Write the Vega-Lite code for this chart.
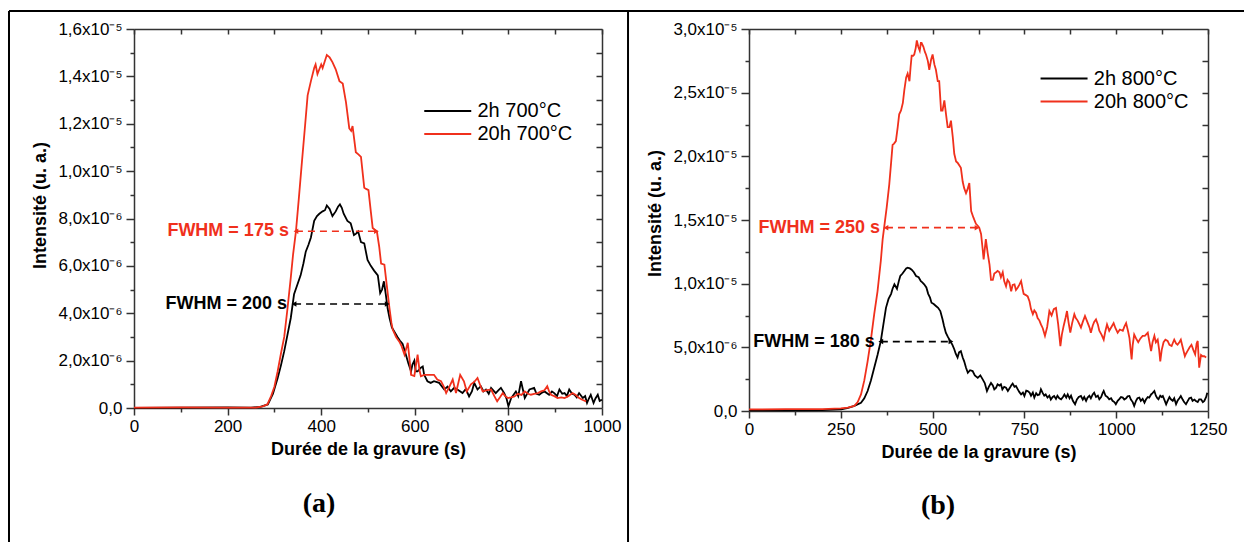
{
"$schema":"https://vega.github.io/schema/vega-lite/v6.json",
"padding":{"left":7,"top":9,"right":0,"bottom":0},
"autosize":{"type":"pad"},
"bounds":"flush",
"spacing":147,
"config":{"view":{"stroke":null},"font":"Liberation Sans",
"axis":{"labelFont":"Liberation Sans","labelFontSize":17,"labelColor":"#000","titleFont":"Liberation Sans","titleFontSize":18,"titleFontWeight":"bold","titleColor":"#000","domainColor":"#333","tickColor":"#333","domainWidth":1.5,"tickWidth":1.5,"grid":false,"labelFlush":false,"labelOverlap":false},
"legend":{"labelFont":"Liberation Sans","labelFontSize":20,"labelColor":"#000","padding":0,"rowPadding":0}},
"resolve":{"scale":{"color":"independent","x":"independent","y":"independent"},"legend":{"color":"independent"}},
"datasets":{
"curves":[
{"p":"a","s":"2h 700°C","t":0,"v":0},{"p":"a","s":"2h 700°C","t":100,"v":0.02e-6},{"p":"a","s":"2h 700°C","t":200,"v":0.03e-6},{"p":"a","s":"2h 700°C","t":250,"v":0.02e-6},{"p":"a","s":"2h 700°C","t":270,"v":0.05e-6},{"p":"a","s":"2h 700°C","t":286,"v":0.15e-6},{"p":"a","s":"2h 700°C","t":297,"v":0.6e-6},{"p":"a","s":"2h 700°C","t":307,"v":1.27e-6},{"p":"a","s":"2h 700°C","t":314,"v":1.8e-6},{"p":"a","s":"2h 700°C","t":321,"v":2.4e-6},{"p":"a","s":"2h 700°C","t":328,"v":3.1e-6},{"p":"a","s":"2h 700°C","t":335,"v":3.8e-6},{"p":"a","s":"2h 700°C","t":342,"v":4.8e-6},{"p":"a","s":"2h 700°C","t":349,"v":5.2e-6},{"p":"a","s":"2h 700°C","t":356,"v":5.6e-6},{"p":"a","s":"2h 700°C","t":362,"v":6.1e-6},{"p":"a","s":"2h 700°C","t":367,"v":6.6e-6},{"p":"a","s":"2h 700°C","t":373,"v":6.9e-6},{"p":"a","s":"2h 700°C","t":378,"v":7.2e-6},{"p":"a","s":"2h 700°C","t":385,"v":7.9e-6},{"p":"a","s":"2h 700°C","t":391,"v":8.1e-6},{"p":"a","s":"2h 700°C","t":396,"v":8.2e-6},{"p":"a","s":"2h 700°C","t":403,"v":8.3e-6},{"p":"a","s":"2h 700°C","t":408,"v":8.35e-6},{"p":"a","s":"2h 700°C","t":412,"v":8.55e-6},{"p":"a","s":"2h 700°C","t":418,"v":8.4e-6},{"p":"a","s":"2h 700°C","t":424,"v":8.1e-6},{"p":"a","s":"2h 700°C","t":431,"v":8.3e-6},{"p":"a","s":"2h 700°C","t":436,"v":8.5e-6},{"p":"a","s":"2h 700°C","t":440,"v":8.6e-6},{"p":"a","s":"2h 700°C","t":444,"v":8.45e-6},{"p":"a","s":"2h 700°C","t":448,"v":8.2e-6},{"p":"a","s":"2h 700°C","t":456,"v":7.9e-6},{"p":"a","s":"2h 700°C","t":463,"v":7.8e-6},{"p":"a","s":"2h 700°C","t":470,"v":7.3e-6},{"p":"a","s":"2h 700°C","t":474,"v":7.35e-6},{"p":"a","s":"2h 700°C","t":479,"v":7.45e-6},{"p":"a","s":"2h 700°C","t":485,"v":7.0e-6},{"p":"a","s":"2h 700°C","t":492,"v":6.95e-6},{"p":"a","s":"2h 700°C","t":499,"v":6.25e-6},{"p":"a","s":"2h 700°C","t":506,"v":6.0e-6},{"p":"a","s":"2h 700°C","t":513,"v":5.8e-6},{"p":"a","s":"2h 700°C","t":521,"v":5.6e-6},{"p":"a","s":"2h 700°C","t":526,"v":4.85e-6},{"p":"a","s":"2h 700°C","t":530,"v":5.0e-6},{"p":"a","s":"2h 700°C","t":534,"v":5.35e-6},{"p":"a","s":"2h 700°C","t":538,"v":4.8e-6},{"p":"a","s":"2h 700°C","t":542,"v":4.2e-6},{"p":"a","s":"2h 700°C","t":546,"v":3.8e-6},{"p":"a","s":"2h 700°C","t":551,"v":3.4e-6},{"p":"a","s":"2h 700°C","t":557,"v":3.2e-6},{"p":"a","s":"2h 700°C","t":563,"v":3.0e-6},{"p":"a","s":"2h 700°C","t":568,"v":2.85e-6},{"p":"a","s":"2h 700°C","t":574,"v":2.7e-6},{"p":"a","s":"2h 700°C","t":581,"v":2.25e-6},{"p":"a","s":"2h 700°C","t":586,"v":1.9e-6},{"p":"a","s":"2h 700°C","t":592,"v":1.55e-6},{"p":"a","s":"2h 700°C","t":595,"v":1.83e-6},{"p":"a","s":"2h 700°C","t":599,"v":2.0e-6},{"p":"a","s":"2h 700°C","t":602,"v":1.55e-6},{"p":"a","s":"2h 700°C","t":606,"v":1.55e-6},{"p":"a","s":"2h 700°C","t":613,"v":1.7e-6},{"p":"a","s":"2h 700°C","t":617,"v":1.75e-6},{"p":"a","s":"2h 700°C","t":620,"v":1.4e-6},{"p":"a","s":"2h 700°C","t":627,"v":1.13e-6},{"p":"a","s":"2h 700°C","t":634,"v":1.06e-6},{"p":"a","s":"2h 700°C","t":641,"v":1.13e-6},{"p":"a","s":"2h 700°C","t":652,"v":1.06e-6},{"p":"a","s":"2h 700°C","t":663,"v":0.78e-6},{"p":"a","s":"2h 700°C","t":670,"v":0.9e-6},{"p":"a","s":"2h 700°C","t":677,"v":0.7e-6},{"p":"a","s":"2h 700°C","t":684,"v":0.85e-6},{"p":"a","s":"2h 700°C","t":691,"v":0.78e-6},{"p":"a","s":"2h 700°C","t":702,"v":0.63e-6},{"p":"a","s":"2h 700°C","t":709,"v":0.8e-6},{"p":"a","s":"2h 700°C","t":716,"v":0.49e-6},{"p":"a","s":"2h 700°C","t":722,"v":0.7e-6},{"p":"a","s":"2h 700°C","t":727,"v":1.06e-6},{"p":"a","s":"2h 700°C","t":734,"v":0.78e-6},{"p":"a","s":"2h 700°C","t":741,"v":0.92e-6},{"p":"a","s":"2h 700°C","t":747,"v":0.7e-6},{"p":"a","s":"2h 700°C","t":752,"v":0.78e-6},{"p":"a","s":"2h 700°C","t":758,"v":0.6e-6},{"p":"a","s":"2h 700°C","t":763,"v":0.85e-6},{"p":"a","s":"2h 700°C","t":773,"v":0.63e-6},{"p":"a","s":"2h 700°C","t":779,"v":0.75e-6},{"p":"a","s":"2h 700°C","t":784,"v":0.85e-6},{"p":"a","s":"2h 700°C","t":791,"v":0.63e-6},{"p":"a","s":"2h 700°C","t":796,"v":0.4e-6},{"p":"a","s":"2h 700°C","t":800,"v":0.07e-6},{"p":"a","s":"2h 700°C","t":806,"v":0.42e-6},{"p":"a","s":"2h 700°C","t":816,"v":0.7e-6},{"p":"a","s":"2h 700°C","t":821,"v":0.5e-6},{"p":"a","s":"2h 700°C","t":827,"v":1.13e-6},{"p":"a","s":"2h 700°C","t":835,"v":0.42e-6},{"p":"a","s":"2h 700°C","t":840,"v":0.6e-6},{"p":"a","s":"2h 700°C","t":845,"v":0.78e-6},{"p":"a","s":"2h 700°C","t":855,"v":0.85e-6},{"p":"a","s":"2h 700°C","t":860,"v":0.6e-6},{"p":"a","s":"2h 700°C","t":866,"v":0.56e-6},{"p":"a","s":"2h 700°C","t":872,"v":0.65e-6},{"p":"a","s":"2h 700°C","t":877,"v":0.7e-6},{"p":"a","s":"2h 700°C","t":887,"v":0.56e-6},{"p":"a","s":"2h 700°C","t":893,"v":0.7e-6},{"p":"a","s":"2h 700°C","t":898,"v":0.63e-6},{"p":"a","s":"2h 700°C","t":904,"v":0.5e-6},{"p":"a","s":"2h 700°C","t":909,"v":0.78e-6},{"p":"a","s":"2h 700°C","t":915,"v":0.6e-6},{"p":"a","s":"2h 700°C","t":920,"v":0.63e-6},{"p":"a","s":"2h 700°C","t":925,"v":0.5e-6},{"p":"a","s":"2h 700°C","t":930,"v":0.78e-6},{"p":"a","s":"2h 700°C","t":936,"v":0.6e-6},{"p":"a","s":"2h 700°C","t":941,"v":0.56e-6},{"p":"a","s":"2h 700°C","t":946,"v":0.45e-6},{"p":"a","s":"2h 700°C","t":951,"v":0.63e-6},{"p":"a","s":"2h 700°C","t":959,"v":0.42e-6},{"p":"a","s":"2h 700°C","t":964,"v":0.5e-6},{"p":"a","s":"2h 700°C","t":968,"v":0.21e-6},{"p":"a","s":"2h 700°C","t":972,"v":0.4e-6},{"p":"a","s":"2h 700°C","t":976,"v":0.56e-6},{"p":"a","s":"2h 700°C","t":982,"v":0.21e-6},{"p":"a","s":"2h 700°C","t":986,"v":0.4e-6},{"p":"a","s":"2h 700°C","t":991,"v":0.56e-6},{"p":"a","s":"2h 700°C","t":995,"v":0.3e-6},{"p":"a","s":"2h 700°C","t":1000,"v":0.35e-6},
{"p":"a","s":"20h 700°C","t":0,"v":0.02e-6},{"p":"a","s":"20h 700°C","t":100,"v":0.03e-6},{"p":"a","s":"20h 700°C","t":200,"v":0.02e-6},{"p":"a","s":"20h 700°C","t":260,"v":0.02e-6},{"p":"a","s":"20h 700°C","t":275,"v":0.07e-6},{"p":"a","s":"20h 700°C","t":285,"v":0.15e-6},{"p":"a","s":"20h 700°C","t":293,"v":0.5e-6},{"p":"a","s":"20h 700°C","t":300,"v":0.9e-6},{"p":"a","s":"20h 700°C","t":307,"v":1.55e-6},{"p":"a","s":"20h 700°C","t":314,"v":2.3e-6},{"p":"a","s":"20h 700°C","t":321,"v":3.0e-6},{"p":"a","s":"20h 700°C","t":328,"v":4.2e-6},{"p":"a","s":"20h 700°C","t":335,"v":5.5e-6},{"p":"a","s":"20h 700°C","t":340,"v":6.5e-6},{"p":"a","s":"20h 700°C","t":346,"v":7.45e-6},{"p":"a","s":"20h 700°C","t":352,"v":8.8e-6},{"p":"a","s":"20h 700°C","t":358,"v":10.2e-6},{"p":"a","s":"20h 700°C","t":365,"v":11.8e-6},{"p":"a","s":"20h 700°C","t":371,"v":13.2e-6},{"p":"a","s":"20h 700°C","t":378,"v":13.8e-6},{"p":"a","s":"20h 700°C","t":385,"v":14.35e-6},{"p":"a","s":"20h 700°C","t":388,"v":14.5e-6},{"p":"a","s":"20h 700°C","t":392,"v":14.1e-6},{"p":"a","s":"20h 700°C","t":396,"v":14.3e-6},{"p":"a","s":"20h 700°C","t":400,"v":14.5e-6},{"p":"a","s":"20h 700°C","t":403,"v":14.35e-6},{"p":"a","s":"20h 700°C","t":407,"v":14.6e-6},{"p":"a","s":"20h 700°C","t":412,"v":14.9e-6},{"p":"a","s":"20h 700°C","t":418,"v":14.8e-6},{"p":"a","s":"20h 700°C","t":424,"v":14.6e-6},{"p":"a","s":"20h 700°C","t":431,"v":14.3e-6},{"p":"a","s":"20h 700°C","t":439,"v":13.8e-6},{"p":"a","s":"20h 700°C","t":446,"v":13.7e-6},{"p":"a","s":"20h 700°C","t":453,"v":12.9e-6},{"p":"a","s":"20h 700°C","t":460,"v":11.8e-6},{"p":"a","s":"20h 700°C","t":464,"v":11.7e-6},{"p":"a","s":"20h 700°C","t":467,"v":11.9e-6},{"p":"a","s":"20h 700°C","t":474,"v":10.8e-6},{"p":"a","s":"20h 700°C","t":480,"v":10.7e-6},{"p":"a","s":"20h 700°C","t":485,"v":10.6e-6},{"p":"a","s":"20h 700°C","t":492,"v":9.3e-6},{"p":"a","s":"20h 700°C","t":496,"v":9.25e-6},{"p":"a","s":"20h 700°C","t":501,"v":9.2e-6},{"p":"a","s":"20h 700°C","t":506,"v":8.3e-6},{"p":"a","s":"20h 700°C","t":510,"v":7.6e-6},{"p":"a","s":"20h 700°C","t":519,"v":7.45e-6},{"p":"a","s":"20h 700°C","t":524,"v":6.8e-6},{"p":"a","s":"20h 700°C","t":528,"v":6.1e-6},{"p":"a","s":"20h 700°C","t":535,"v":6.05e-6},{"p":"a","s":"20h 700°C","t":540,"v":5.2e-6},{"p":"a","s":"20h 700°C","t":546,"v":4.2e-6},{"p":"a","s":"20h 700°C","t":550,"v":3.6e-6},{"p":"a","s":"20h 700°C","t":553,"v":3.3e-6},{"p":"a","s":"20h 700°C","t":560,"v":3.0e-6},{"p":"a","s":"20h 700°C","t":567,"v":2.8e-6},{"p":"a","s":"20h 700°C","t":572,"v":2.6e-6},{"p":"a","s":"20h 700°C","t":578,"v":2.25e-6},{"p":"a","s":"20h 700°C","t":585,"v":2.75e-6},{"p":"a","s":"20h 700°C","t":589,"v":2.0e-6},{"p":"a","s":"20h 700°C","t":592,"v":1.4e-6},{"p":"a","s":"20h 700°C","t":599,"v":1.35e-6},{"p":"a","s":"20h 700°C","t":606,"v":2.25e-6},{"p":"a","s":"20h 700°C","t":610,"v":1.6e-6},{"p":"a","s":"20h 700°C","t":613,"v":1.34e-6},{"p":"a","s":"20h 700°C","t":620,"v":1.4e-6},{"p":"a","s":"20h 700°C","t":627,"v":1.4e-6},{"p":"a","s":"20h 700°C","t":634,"v":1.4e-6},{"p":"a","s":"20h 700°C","t":641,"v":1.4e-6},{"p":"a","s":"20h 700°C","t":648,"v":1.2e-6},{"p":"a","s":"20h 700°C","t":656,"v":1.13e-6},{"p":"a","s":"20h 700°C","t":662,"v":0.9e-6},{"p":"a","s":"20h 700°C","t":667,"v":0.63e-6},{"p":"a","s":"20h 700°C","t":674,"v":0.9e-6},{"p":"a","s":"20h 700°C","t":681,"v":1.2e-6},{"p":"a","s":"20h 700°C","t":688,"v":0.63e-6},{"p":"a","s":"20h 700°C","t":697,"v":1.4e-6},{"p":"a","s":"20h 700°C","t":705,"v":1.13e-6},{"p":"a","s":"20h 700°C","t":711,"v":0.7e-6},{"p":"a","s":"20h 700°C","t":720,"v":1.0e-6},{"p":"a","s":"20h 700°C","t":727,"v":1.1e-6},{"p":"a","s":"20h 700°C","t":734,"v":1.27e-6},{"p":"a","s":"20h 700°C","t":740,"v":0.95e-6},{"p":"a","s":"20h 700°C","t":745,"v":0.7e-6},{"p":"a","s":"20h 700°C","t":754,"v":0.75e-6},{"p":"a","s":"20h 700°C","t":763,"v":0.78e-6},{"p":"a","s":"20h 700°C","t":770,"v":0.5e-6},{"p":"a","s":"20h 700°C","t":776,"v":0.28e-6},{"p":"a","s":"20h 700°C","t":782,"v":0.45e-6},{"p":"a","s":"20h 700°C","t":788,"v":0.63e-6},{"p":"a","s":"20h 700°C","t":793,"v":0.5e-6},{"p":"a","s":"20h 700°C","t":799,"v":0.42e-6},{"p":"a","s":"20h 700°C","t":806,"v":0.45e-6},{"p":"a","s":"20h 700°C","t":813,"v":0.49e-6},{"p":"a","s":"20h 700°C","t":820,"v":0.6e-6},{"p":"a","s":"20h 700°C","t":828,"v":0.55e-6},{"p":"a","s":"20h 700°C","t":835,"v":0.7e-6},{"p":"a","s":"20h 700°C","t":842,"v":0.6e-6},{"p":"a","s":"20h 700°C","t":848,"v":0.56e-6},{"p":"a","s":"20h 700°C","t":855,"v":0.6e-6},{"p":"a","s":"20h 700°C","t":863,"v":0.63e-6},{"p":"a","s":"20h 700°C","t":870,"v":0.7e-6},{"p":"a","s":"20h 700°C","t":877,"v":0.75e-6},{"p":"a","s":"20h 700°C","t":883,"v":0.92e-6},{"p":"a","s":"20h 700°C","t":887,"v":0.7e-6},{"p":"a","s":"20h 700°C","t":891,"v":0.56e-6},{"p":"a","s":"20h 700°C","t":898,"v":0.5e-6},{"p":"a","s":"20h 700°C","t":905,"v":0.42e-6},{"p":"a","s":"20h 700°C","t":913,"v":0.45e-6},{"p":"a","s":"20h 700°C","t":920,"v":0.42e-6},{"p":"a","s":"20h 700°C","t":928,"v":0.5e-6},{"p":"a","s":"20h 700°C","t":937,"v":0.63e-6},{"p":"a","s":"20h 700°C","t":944,"v":0.55e-6},{"p":"a","s":"20h 700°C","t":951,"v":0.42e-6},{"p":"a","s":"20h 700°C","t":958,"v":0.35e-6},{"p":"a","s":"20h 700°C","t":966,"v":0.28e-6},
{"p":"b","s":"2h 800°C","t":0,"v":0.05e-6},{"p":"b","s":"2h 800°C","t":100,"v":0.05e-6},{"p":"b","s":"2h 800°C","t":200,"v":0.08e-6},{"p":"b","s":"2h 800°C","t":251,"v":0.13e-6},{"p":"b","s":"2h 800°C","t":270,"v":0.25e-6},{"p":"b","s":"2h 800°C","t":287,"v":0.4e-6},{"p":"b","s":"2h 800°C","t":305,"v":0.65e-6},{"p":"b","s":"2h 800°C","t":314,"v":1.0e-6},{"p":"b","s":"2h 800°C","t":323,"v":1.57e-6},{"p":"b","s":"2h 800°C","t":332,"v":2.4e-6},{"p":"b","s":"2h 800°C","t":341,"v":3.4e-6},{"p":"b","s":"2h 800°C","t":350,"v":4.4e-6},{"p":"b","s":"2h 800°C","t":359,"v":5.5e-6},{"p":"b","s":"2h 800°C","t":366,"v":6.8e-6},{"p":"b","s":"2h 800°C","t":373,"v":8.1e-6},{"p":"b","s":"2h 800°C","t":380,"v":8.8e-6},{"p":"b","s":"2h 800°C","t":387,"v":9.2e-6},{"p":"b","s":"2h 800°C","t":391,"v":9.6e-6},{"p":"b","s":"2h 800°C","t":396,"v":9.95e-6},{"p":"b","s":"2h 800°C","t":403,"v":9.6e-6},{"p":"b","s":"2h 800°C","t":408,"v":10.2e-6},{"p":"b","s":"2h 800°C","t":412,"v":10.6e-6},{"p":"b","s":"2h 800°C","t":418,"v":10.8e-6},{"p":"b","s":"2h 800°C","t":423,"v":11.0e-6},{"p":"b","s":"2h 800°C","t":428,"v":11.2e-6},{"p":"b","s":"2h 800°C","t":432,"v":11.26e-6},{"p":"b","s":"2h 800°C","t":438,"v":11.2e-6},{"p":"b","s":"2h 800°C","t":443,"v":11.1e-6},{"p":"b","s":"2h 800°C","t":449,"v":10.9e-6},{"p":"b","s":"2h 800°C","t":455,"v":10.6e-6},{"p":"b","s":"2h 800°C","t":462,"v":10.5e-6},{"p":"b","s":"2h 800°C","t":468,"v":10.2e-6},{"p":"b","s":"2h 800°C","t":472,"v":10.1e-6},{"p":"b","s":"2h 800°C","t":477,"v":9.95e-6},{"p":"b","s":"2h 800°C","t":483,"v":9.7e-6},{"p":"b","s":"2h 800°C","t":488,"v":9.2e-6},{"p":"b","s":"2h 800°C","t":493,"v":8.9e-6},{"p":"b","s":"2h 800°C","t":497,"v":8.5e-6},{"p":"b","s":"2h 800°C","t":503,"v":8.4e-6},{"p":"b","s":"2h 800°C","t":509,"v":8.25e-6},{"p":"b","s":"2h 800°C","t":515,"v":8.1e-6},{"p":"b","s":"2h 800°C","t":521,"v":7.85e-6},{"p":"b","s":"2h 800°C","t":527,"v":7.2e-6},{"p":"b","s":"2h 800°C","t":531,"v":6.7e-6},{"p":"b","s":"2h 800°C","t":536,"v":6.15e-6},{"p":"b","s":"2h 800°C","t":542,"v":5.8e-6},{"p":"b","s":"2h 800°C","t":548,"v":5.5e-6},{"p":"b","s":"2h 800°C","t":554,"v":5.2e-6},{"p":"b","s":"2h 800°C","t":559,"v":4.85e-6},{"p":"b","s":"2h 800°C","t":563,"v":4.5e-6},{"p":"b","s":"2h 800°C","t":568,"v":4.2e-6},{"p":"b","s":"2h 800°C","t":572,"v":4.6e-6},{"p":"b","s":"2h 800°C","t":577,"v":4.7e-6},{"p":"b","s":"2h 800°C","t":582,"v":4.2e-6},{"p":"b","s":"2h 800°C","t":586,"v":3.9e-6},{"p":"b","s":"2h 800°C","t":591,"v":3.4e-6},{"p":"b","s":"2h 800°C","t":596,"v":3.0e-6},{"p":"b","s":"2h 800°C","t":602,"v":3.2e-6},{"p":"b","s":"2h 800°C","t":609,"v":3.14e-6},{"p":"b","s":"2h 800°C","t":615,"v":2.8e-6},{"p":"b","s":"2h 800°C","t":623,"v":2.6e-6},{"p":"b","s":"2h 800°C","t":630,"v":2.8e-6},{"p":"b","s":"2h 800°C","t":636,"v":2.5e-6},{"p":"b","s":"2h 800°C","t":642,"v":2.2e-6},{"p":"b","s":"2h 800°C","t":648,"v":1.57e-6},{"p":"b","s":"2h 800°C","t":653,"v":1.9e-6},{"p":"b","s":"2h 800°C","t":659,"v":2.2e-6},{"p":"b","s":"2h 800°C","t":664,"v":2.0e-6},{"p":"b","s":"2h 800°C","t":668,"v":1.7e-6},{"p":"b","s":"2h 800°C","t":673,"v":1.83e-6},{"p":"b","s":"2h 800°C","t":677,"v":2.1e-6},{"p":"b","s":"2h 800°C","t":682,"v":2.0e-6},{"p":"b","s":"2h 800°C","t":686,"v":2.1e-6},{"p":"b","s":"2h 800°C","t":690,"v":1.7e-6},{"p":"b","s":"2h 800°C","t":695,"v":1.9e-6},{"p":"b","s":"2h 800°C","t":700,"v":1.83e-6},{"p":"b","s":"2h 800°C","t":705,"v":1.57e-6},{"p":"b","s":"2h 800°C","t":710,"v":1.8e-6},{"p":"b","s":"2h 800°C","t":714,"v":2.0e-6},{"p":"b","s":"2h 800°C","t":718,"v":2.15e-6},{"p":"b","s":"2h 800°C","t":723,"v":1.9e-6},{"p":"b","s":"2h 800°C","t":727,"v":1.96e-6},{"p":"b","s":"2h 800°C","t":732,"v":1.7e-6},{"p":"b","s":"2h 800°C","t":736,"v":1.5e-6},{"p":"b","s":"2h 800°C","t":741,"v":1.3e-6},{"p":"b","s":"2h 800°C","t":746,"v":1.45e-6},{"p":"b","s":"2h 800°C","t":750,"v":1.18e-6},{"p":"b","s":"2h 800°C","t":755,"v":1.6e-6},{"p":"b","s":"2h 800°C","t":759,"v":1.57e-6},{"p":"b","s":"2h 800°C","t":764,"v":1.44e-6},{"p":"b","s":"2h 800°C","t":768,"v":1.2e-6},{"p":"b","s":"2h 800°C","t":773,"v":1.45e-6},{"p":"b","s":"2h 800°C","t":777,"v":1.05e-6},{"p":"b","s":"2h 800°C","t":782,"v":1.4e-6},{"p":"b","s":"2h 800°C","t":786,"v":1.25e-6},{"p":"b","s":"2h 800°C","t":791,"v":1.3e-6},{"p":"b","s":"2h 800°C","t":795,"v":1.7e-6},{"p":"b","s":"2h 800°C","t":800,"v":1.4e-6},{"p":"b","s":"2h 800°C","t":804,"v":1.2e-6},{"p":"b","s":"2h 800°C","t":808,"v":1.3e-6},{"p":"b","s":"2h 800°C","t":813,"v":1.05e-6},{"p":"b","s":"2h 800°C","t":818,"v":1.2e-6},{"p":"b","s":"2h 800°C","t":822,"v":0.9e-6},{"p":"b","s":"2h 800°C","t":827,"v":1.1e-6},{"p":"b","s":"2h 800°C","t":831,"v":1.18e-6},{"p":"b","s":"2h 800°C","t":836,"v":0.95e-6},{"p":"b","s":"2h 800°C","t":840,"v":1.2e-6},{"p":"b","s":"2h 800°C","t":845,"v":1.0e-6},{"p":"b","s":"2h 800°C","t":850,"v":0.92e-6},{"p":"b","s":"2h 800°C","t":855,"v":1.1e-6},{"p":"b","s":"2h 800°C","t":859,"v":1.3e-6},{"p":"b","s":"2h 800°C","t":864,"v":1.05e-6},{"p":"b","s":"2h 800°C","t":868,"v":1.3e-6},{"p":"b","s":"2h 800°C","t":873,"v":1.0e-6},{"p":"b","s":"2h 800°C","t":877,"v":1.2e-6},{"p":"b","s":"2h 800°C","t":882,"v":0.8e-6},{"p":"b","s":"2h 800°C","t":888,"v":0.53e-6},{"p":"b","s":"2h 800°C","t":893,"v":0.9e-6},{"p":"b","s":"2h 800°C","t":898,"v":1.1e-6},{"p":"b","s":"2h 800°C","t":904,"v":1.18e-6},{"p":"b","s":"2h 800°C","t":909,"v":0.9e-6},{"p":"b","s":"2h 800°C","t":913,"v":1.1e-6},{"p":"b","s":"2h 800°C","t":918,"v":0.8e-6},{"p":"b","s":"2h 800°C","t":922,"v":1.05e-6},{"p":"b","s":"2h 800°C","t":927,"v":1.2e-6},{"p":"b","s":"2h 800°C","t":931,"v":1.0e-6},{"p":"b","s":"2h 800°C","t":936,"v":1.3e-6},{"p":"b","s":"2h 800°C","t":940,"v":1.44e-6},{"p":"b","s":"2h 800°C","t":945,"v":1.1e-6},{"p":"b","s":"2h 800°C","t":950,"v":1.2e-6},{"p":"b","s":"2h 800°C","t":954,"v":0.92e-6},{"p":"b","s":"2h 800°C","t":959,"v":1.1e-6},{"p":"b","s":"2h 800°C","t":963,"v":1.4e-6},{"p":"b","s":"2h 800°C","t":966,"v":1.57e-6},{"p":"b","s":"2h 800°C","t":971,"v":1.2e-6},{"p":"b","s":"2h 800°C","t":976,"v":1.1e-6},{"p":"b","s":"2h 800°C","t":981,"v":0.92e-6},{"p":"b","s":"2h 800°C","t":986,"v":1.0e-6},{"p":"b","s":"2h 800°C","t":990,"v":0.8e-6},{"p":"b","s":"2h 800°C","t":995,"v":0.7e-6},{"p":"b","s":"2h 800°C","t":999,"v":0.53e-6},{"p":"b","s":"2h 800°C","t":1004,"v":0.8e-6},{"p":"b","s":"2h 800°C","t":1009,"v":0.95e-6},{"p":"b","s":"2h 800°C","t":1013,"v":1.1e-6},{"p":"b","s":"2h 800°C","t":1018,"v":1.05e-6},{"p":"b","s":"2h 800°C","t":1022,"v":0.9e-6},{"p":"b","s":"2h 800°C","t":1027,"v":1.0e-6},{"p":"b","s":"2h 800°C","t":1031,"v":1.15e-6},{"p":"b","s":"2h 800°C","t":1036,"v":1.18e-6},{"p":"b","s":"2h 800°C","t":1040,"v":0.9e-6},{"p":"b","s":"2h 800°C","t":1045,"v":0.7e-6},{"p":"b","s":"2h 800°C","t":1049,"v":0.4e-6},{"p":"b","s":"2h 800°C","t":1054,"v":0.8e-6},{"p":"b","s":"2h 800°C","t":1058,"v":1.0e-6},{"p":"b","s":"2h 800°C","t":1063,"v":1.05e-6},{"p":"b","s":"2h 800°C","t":1067,"v":0.8e-6},{"p":"b","s":"2h 800°C","t":1072,"v":0.95e-6},{"p":"b","s":"2h 800°C","t":1077,"v":0.65e-6},{"p":"b","s":"2h 800°C","t":1081,"v":0.9e-6},{"p":"b","s":"2h 800°C","t":1086,"v":1.1e-6},{"p":"b","s":"2h 800°C","t":1090,"v":1.05e-6},{"p":"b","s":"2h 800°C","t":1095,"v":1.3e-6},{"p":"b","s":"2h 800°C","t":1099,"v":1.4e-6},{"p":"b","s":"2h 800°C","t":1104,"v":1.57e-6},{"p":"b","s":"2h 800°C","t":1108,"v":1.2e-6},{"p":"b","s":"2h 800°C","t":1112,"v":1.0e-6},{"p":"b","s":"2h 800°C","t":1115,"v":0.92e-6},{"p":"b","s":"2h 800°C","t":1120,"v":1.2e-6},{"p":"b","s":"2h 800°C","t":1124,"v":1.1e-6},{"p":"b","s":"2h 800°C","t":1127,"v":1.18e-6},{"p":"b","s":"2h 800°C","t":1131,"v":0.9e-6},{"p":"b","s":"2h 800°C","t":1136,"v":0.53e-6},{"p":"b","s":"2h 800°C","t":1140,"v":0.8e-6},{"p":"b","s":"2h 800°C","t":1145,"v":1.1e-6},{"p":"b","s":"2h 800°C","t":1149,"v":0.92e-6},{"p":"b","s":"2h 800°C","t":1154,"v":0.8e-6},{"p":"b","s":"2h 800°C","t":1158,"v":1.0e-6},{"p":"b","s":"2h 800°C","t":1163,"v":0.53e-6},{"p":"b","s":"2h 800°C","t":1167,"v":0.8e-6},{"p":"b","s":"2h 800°C","t":1172,"v":1.0e-6},{"p":"b","s":"2h 800°C","t":1176,"v":1.18e-6},{"p":"b","s":"2h 800°C","t":1181,"v":0.9e-6},{"p":"b","s":"2h 800°C","t":1185,"v":0.7e-6},{"p":"b","s":"2h 800°C","t":1190,"v":0.53e-6},{"p":"b","s":"2h 800°C","t":1195,"v":0.8e-6},{"p":"b","s":"2h 800°C","t":1199,"v":1.0e-6},{"p":"b","s":"2h 800°C","t":1204,"v":1.05e-6},{"p":"b","s":"2h 800°C","t":1208,"v":0.8e-6},{"p":"b","s":"2h 800°C","t":1213,"v":0.9e-6},{"p":"b","s":"2h 800°C","t":1217,"v":0.79e-6},{"p":"b","s":"2h 800°C","t":1222,"v":0.7e-6},{"p":"b","s":"2h 800°C","t":1226,"v":0.92e-6},{"p":"b","s":"2h 800°C","t":1231,"v":0.92e-6},{"p":"b","s":"2h 800°C","t":1236,"v":0.7e-6},{"p":"b","s":"2h 800°C","t":1240,"v":0.79e-6},{"p":"b","s":"2h 800°C","t":1245,"v":1.1e-6},{"p":"b","s":"2h 800°C","t":1248,"v":1.44e-6},
{"p":"b","s":"20h 800°C","t":0,"v":0.12e-6},{"p":"b","s":"20h 800°C","t":100,"v":0.15e-6},{"p":"b","s":"20h 800°C","t":200,"v":0.15e-6},{"p":"b","s":"20h 800°C","t":250,"v":0.2e-6},{"p":"b","s":"20h 800°C","t":269,"v":0.26e-6},{"p":"b","s":"20h 800°C","t":287,"v":0.4e-6},{"p":"b","s":"20h 800°C","t":296,"v":0.7e-6},{"p":"b","s":"20h 800°C","t":305,"v":1.3e-6},{"p":"b","s":"20h 800°C","t":314,"v":2.4e-6},{"p":"b","s":"20h 800°C","t":323,"v":3.9e-6},{"p":"b","s":"20h 800°C","t":332,"v":5.6e-6},{"p":"b","s":"20h 800°C","t":341,"v":7.6e-6},{"p":"b","s":"20h 800°C","t":350,"v":9.4e-6},{"p":"b","s":"20h 800°C","t":359,"v":11.8e-6},{"p":"b","s":"20h 800°C","t":364,"v":13.5e-6},{"p":"b","s":"20h 800°C","t":368,"v":14.4e-6},{"p":"b","s":"20h 800°C","t":375,"v":16.0e-6},{"p":"b","s":"20h 800°C","t":382,"v":17.8e-6},{"p":"b","s":"20h 800°C","t":387,"v":19.5e-6},{"p":"b","s":"20h 800°C","t":391,"v":20.9e-6},{"p":"b","s":"20h 800°C","t":395,"v":21.0e-6},{"p":"b","s":"20h 800°C","t":400,"v":21.2e-6},{"p":"b","s":"20h 800°C","t":405,"v":22.3e-6},{"p":"b","s":"20h 800°C","t":409,"v":23.3e-6},{"p":"b","s":"20h 800°C","t":414,"v":23.6e-6},{"p":"b","s":"20h 800°C","t":419,"v":24.2e-6},{"p":"b","s":"20h 800°C","t":423,"v":25.2e-6},{"p":"b","s":"20h 800°C","t":428,"v":26.2e-6},{"p":"b","s":"20h 800°C","t":432,"v":26.5e-6},{"p":"b","s":"20h 800°C","t":437,"v":25.9e-6},{"p":"b","s":"20h 800°C","t":440,"v":27.0e-6},{"p":"b","s":"20h 800°C","t":443,"v":27.9e-6},{"p":"b","s":"20h 800°C","t":447,"v":27.9e-6},{"p":"b","s":"20h 800°C","t":450,"v":28.0e-6},{"p":"b","s":"20h 800°C","t":454,"v":28.5e-6},{"p":"b","s":"20h 800°C","t":457,"v":29.1e-6},{"p":"b","s":"20h 800°C","t":461,"v":28.6e-6},{"p":"b","s":"20h 800°C","t":465,"v":28.3e-6},{"p":"b","s":"20h 800°C","t":468,"v":28.9e-6},{"p":"b","s":"20h 800°C","t":470,"v":28.9e-6},{"p":"b","s":"20h 800°C","t":475,"v":28.6e-6},{"p":"b","s":"20h 800°C","t":479,"v":28.2e-6},{"p":"b","s":"20h 800°C","t":482,"v":28.0e-6},{"p":"b","s":"20h 800°C","t":487,"v":27.5e-6},{"p":"b","s":"20h 800°C","t":491,"v":26.8e-6},{"p":"b","s":"20h 800°C","t":496,"v":27.6e-6},{"p":"b","s":"20h 800°C","t":500,"v":28.0e-6},{"p":"b","s":"20h 800°C","t":505,"v":27.2e-6},{"p":"b","s":"20h 800°C","t":509,"v":26.8e-6},{"p":"b","s":"20h 800°C","t":514,"v":25.9e-6},{"p":"b","s":"20h 800°C","t":518,"v":25.9e-6},{"p":"b","s":"20h 800°C","t":523,"v":23.6e-6},{"p":"b","s":"20h 800°C","t":527,"v":23.6e-6},{"p":"b","s":"20h 800°C","t":532,"v":24.4e-6},{"p":"b","s":"20h 800°C","t":537,"v":23.2e-6},{"p":"b","s":"20h 800°C","t":541,"v":22.3e-6},{"p":"b","s":"20h 800°C","t":546,"v":22.3e-6},{"p":"b","s":"20h 800°C","t":550,"v":22.8e-6},{"p":"b","s":"20h 800°C","t":555,"v":21.5e-6},{"p":"b","s":"20h 800°C","t":559,"v":20.2e-6},{"p":"b","s":"20h 800°C","t":564,"v":19.6e-6},{"p":"b","s":"20h 800°C","t":568,"v":19.5e-6},{"p":"b","s":"20h 800°C","t":577,"v":19.1e-6},{"p":"b","s":"20h 800°C","t":582,"v":18.0e-6},{"p":"b","s":"20h 800°C","t":586,"v":17.5e-6},{"p":"b","s":"20h 800°C","t":591,"v":17.1e-6},{"p":"b","s":"20h 800°C","t":595,"v":17.4e-6},{"p":"b","s":"20h 800°C","t":600,"v":17.9e-6},{"p":"b","s":"20h 800°C","t":605,"v":15.7e-6},{"p":"b","s":"20h 800°C","t":611,"v":15.2e-6},{"p":"b","s":"20h 800°C","t":618,"v":14.7e-6},{"p":"b","s":"20h 800°C","t":623,"v":14.55e-6},{"p":"b","s":"20h 800°C","t":627,"v":14.4e-6},{"p":"b","s":"20h 800°C","t":632,"v":13.9e-6},{"p":"b","s":"20h 800°C","t":636,"v":12.8e-6},{"p":"b","s":"20h 800°C","t":639,"v":11.9e-6},{"p":"b","s":"20h 800°C","t":645,"v":13.5e-6},{"p":"b","s":"20h 800°C","t":650,"v":12.4e-6},{"p":"b","s":"20h 800°C","t":655,"v":11.5e-6},{"p":"b","s":"20h 800°C","t":659,"v":10.3e-6},{"p":"b","s":"20h 800°C","t":664,"v":10.3e-6},{"p":"b","s":"20h 800°C","t":668,"v":10.8e-6},{"p":"b","s":"20h 800°C","t":673,"v":10.9e-6},{"p":"b","s":"20h 800°C","t":677,"v":11.0e-6},{"p":"b","s":"20h 800°C","t":682,"v":10.9e-6},{"p":"b","s":"20h 800°C","t":686,"v":10.5e-6},{"p":"b","s":"20h 800°C","t":691,"v":10.9e-6},{"p":"b","s":"20h 800°C","t":695,"v":10.2e-6},{"p":"b","s":"20h 800°C","t":700,"v":9.8e-6},{"p":"b","s":"20h 800°C","t":704,"v":10.3e-6},{"p":"b","s":"20h 800°C","t":709,"v":10.1e-6},{"p":"b","s":"20h 800°C","t":714,"v":9.4e-6},{"p":"b","s":"20h 800°C","t":718,"v":9.9e-6},{"p":"b","s":"20h 800°C","t":723,"v":9.95e-6},{"p":"b","s":"20h 800°C","t":727,"v":9.5e-6},{"p":"b","s":"20h 800°C","t":732,"v":9.7e-6},{"p":"b","s":"20h 800°C","t":736,"v":9.9e-6},{"p":"b","s":"20h 800°C","t":741,"v":10.2e-6},{"p":"b","s":"20h 800°C","t":745,"v":9.6e-6},{"p":"b","s":"20h 800°C","t":748,"v":9.2e-6},{"p":"b","s":"20h 800°C","t":754,"v":9.1e-6},{"p":"b","s":"20h 800°C","t":759,"v":9.0e-6},{"p":"b","s":"20h 800°C","t":764,"v":8.6e-6},{"p":"b","s":"20h 800°C","t":768,"v":8.0e-6},{"p":"b","s":"20h 800°C","t":773,"v":7.6e-6},{"p":"b","s":"20h 800°C","t":777,"v":7.9e-6},{"p":"b","s":"20h 800°C","t":782,"v":7.7e-6},{"p":"b","s":"20h 800°C","t":786,"v":7.3e-6},{"p":"b","s":"20h 800°C","t":791,"v":7.1e-6},{"p":"b","s":"20h 800°C","t":795,"v":6.8e-6},{"p":"b","s":"20h 800°C","t":800,"v":6.5e-6},{"p":"b","s":"20h 800°C","t":806,"v":5.9e-6},{"p":"b","s":"20h 800°C","t":812,"v":6.6e-6},{"p":"b","s":"20h 800°C","t":818,"v":7.85e-6},{"p":"b","s":"20h 800°C","t":824,"v":7.5e-6},{"p":"b","s":"20h 800°C","t":830,"v":8.0e-6},{"p":"b","s":"20h 800°C","t":836,"v":8.1e-6},{"p":"b","s":"20h 800°C","t":842,"v":6.8e-6},{"p":"b","s":"20h 800°C","t":848,"v":5.1e-6},{"p":"b","s":"20h 800°C","t":852,"v":6.0e-6},{"p":"b","s":"20h 800°C","t":857,"v":6.7e-6},{"p":"b","s":"20h 800°C","t":862,"v":7.3e-6},{"p":"b","s":"20h 800°C","t":866,"v":7.85e-6},{"p":"b","s":"20h 800°C","t":870,"v":7.0e-6},{"p":"b","s":"20h 800°C","t":875,"v":6.15e-6},{"p":"b","s":"20h 800°C","t":880,"v":6.9e-6},{"p":"b","s":"20h 800°C","t":886,"v":7.6e-6},{"p":"b","s":"20h 800°C","t":890,"v":7.3e-6},{"p":"b","s":"20h 800°C","t":895,"v":7.1e-6},{"p":"b","s":"20h 800°C","t":900,"v":6.8e-6},{"p":"b","s":"20h 800°C","t":904,"v":6.55e-6},{"p":"b","s":"20h 800°C","t":909,"v":7.0e-6},{"p":"b","s":"20h 800°C","t":915,"v":7.46e-6},{"p":"b","s":"20h 800°C","t":920,"v":7.1e-6},{"p":"b","s":"20h 800°C","t":924,"v":6.8e-6},{"p":"b","s":"20h 800°C","t":928,"v":6.5e-6},{"p":"b","s":"20h 800°C","t":931,"v":6.15e-6},{"p":"b","s":"20h 800°C","t":936,"v":6.7e-6},{"p":"b","s":"20h 800°C","t":940,"v":7.0e-6},{"p":"b","s":"20h 800°C","t":945,"v":7.2e-6},{"p":"b","s":"20h 800°C","t":950,"v":6.8e-6},{"p":"b","s":"20h 800°C","t":954,"v":6.3e-6},{"p":"b","s":"20h 800°C","t":960,"v":6.0e-6},{"p":"b","s":"20h 800°C","t":966,"v":5.6e-6},{"p":"b","s":"20h 800°C","t":970,"v":6.2e-6},{"p":"b","s":"20h 800°C","t":975,"v":6.8e-6},{"p":"b","s":"20h 800°C","t":981,"v":6.3e-6},{"p":"b","s":"20h 800°C","t":987,"v":6.6e-6},{"p":"b","s":"20h 800°C","t":993,"v":6.9e-6},{"p":"b","s":"20h 800°C","t":998,"v":6.5e-6},{"p":"b","s":"20h 800°C","t":1004,"v":6.15e-6},{"p":"b","s":"20h 800°C","t":1010,"v":6.4e-6},{"p":"b","s":"20h 800°C","t":1018,"v":6.3e-6},{"p":"b","s":"20h 800°C","t":1022,"v":6.6e-6},{"p":"b","s":"20h 800°C","t":1027,"v":6.9e-6},{"p":"b","s":"20h 800°C","t":1032,"v":6.3e-6},{"p":"b","s":"20h 800°C","t":1036,"v":5.75e-6},{"p":"b","s":"20h 800°C","t":1042,"v":4.05e-6},{"p":"b","s":"20h 800°C","t":1045,"v":5.2e-6},{"p":"b","s":"20h 800°C","t":1049,"v":6.0e-6},{"p":"b","s":"20h 800°C","t":1054,"v":5.7e-6},{"p":"b","s":"20h 800°C","t":1060,"v":5.4e-6},{"p":"b","s":"20h 800°C","t":1066,"v":5.7e-6},{"p":"b","s":"20h 800°C","t":1072,"v":5.9e-6},{"p":"b","s":"20h 800°C","t":1078,"v":5.9e-6},{"p":"b","s":"20h 800°C","t":1086,"v":6.15e-6},{"p":"b","s":"20h 800°C","t":1090,"v":5.5e-6},{"p":"b","s":"20h 800°C","t":1095,"v":4.7e-6},{"p":"b","s":"20h 800°C","t":1099,"v":5.4e-6},{"p":"b","s":"20h 800°C","t":1104,"v":5.9e-6},{"p":"b","s":"20h 800°C","t":1108,"v":5.4e-6},{"p":"b","s":"20h 800°C","t":1113,"v":5.6e-6},{"p":"b","s":"20h 800°C","t":1117,"v":4.8e-6},{"p":"b","s":"20h 800°C","t":1120,"v":3.9e-6},{"p":"b","s":"20h 800°C","t":1124,"v":4.8e-6},{"p":"b","s":"20h 800°C","t":1129,"v":5.4e-6},{"p":"b","s":"20h 800°C","t":1134,"v":5.6e-6},{"p":"b","s":"20h 800°C","t":1140,"v":5.5e-6},{"p":"b","s":"20h 800°C","t":1145,"v":5.2e-6},{"p":"b","s":"20h 800°C","t":1151,"v":5.1e-6},{"p":"b","s":"20h 800°C","t":1155,"v":5.4e-6},{"p":"b","s":"20h 800°C","t":1158,"v":5.6e-6},{"p":"b","s":"20h 800°C","t":1163,"v":5.3e-6},{"p":"b","s":"20h 800°C","t":1167,"v":5.2e-6},{"p":"b","s":"20h 800°C","t":1172,"v":5.4e-6},{"p":"b","s":"20h 800°C","t":1176,"v":5.6e-6},{"p":"b","s":"20h 800°C","t":1181,"v":5.0e-6},{"p":"b","s":"20h 800°C","t":1187,"v":4.3e-6},{"p":"b","s":"20h 800°C","t":1190,"v":4.5e-6},{"p":"b","s":"20h 800°C","t":1194,"v":4.7e-6},{"p":"b","s":"20h 800°C","t":1200,"v":5.0e-6},{"p":"b","s":"20h 800°C","t":1205,"v":5.2e-6},{"p":"b","s":"20h 800°C","t":1210,"v":4.8e-6},{"p":"b","s":"20h 800°C","t":1215,"v":4.45e-6},{"p":"b","s":"20h 800°C","t":1219,"v":5.3e-6},{"p":"b","s":"20h 800°C","t":1222,"v":5.5e-6},{"p":"b","s":"20h 800°C","t":1226,"v":3.4e-6},{"p":"b","s":"20h 800°C","t":1231,"v":4.4e-6},{"p":"b","s":"20h 800°C","t":1235,"v":4.3e-6},{"p":"b","s":"20h 800°C","t":1240,"v":4.3e-6},{"p":"b","s":"20h 800°C","t":1245,"v":4.2e-6}
],
"fwhm":[
{"p":"a","s":"20h 700°C","x1":346,"x2":518,"y":7.46e-6,"label":"FWHM = 175 s"},
{"p":"a","s":"2h 700°C","x1":342,"x2":541,"y":4.39e-6,"label":"FWHM = 200 s"},
{"p":"b","s":"20h 800°C","x1":373,"x2":621,"y":14.4e-6,"label":"FWHM = 250 s"},
{"p":"b","s":"2h 800°C","x1":359,"x2":550,"y":5.45e-6,"label":"FWHM = 180 s"}
]
},
"hconcat":[
{
"width":468,"height":379,
"resolve":{"axis":{"x":"independent","y":"independent"}},
"layer":[
{"data":{"name":"curves"},"transform":[{"filter":"datum.p == 'a'"}],
"mark":{"type":"line","strokeWidth":1.8},
"encoding":{
"x":{"field":"t","type":"quantitative","scale":{"domain":[0,1000],"nice":false,"zero":false},"axis":{"orient":"bottom","values":[0,200,400,600,800,1000],"format":"d","title":"Durée de la gravure (s)","tickSize":7,"labelPadding":3,"titlePadding":6}},
"y":{"field":"v","type":"quantitative","scale":{"domain":[0,1.6e-5],"nice":false,"zero":false},"axis":{"orient":"left","values":[0,2e-6,4e-6,6e-6,8e-6,1e-5,1.2e-5,1.4e-5,1.6e-5],"labelExpr":"datum.value == 0 ? '0,0' : replace(replace(replace(format(datum.value, '.1e'), '.', ','), 'e-5', 'x10⁻⁵'), 'e-6', 'x10⁻⁶')","tickSize":8,"labelPadding":4,"title":"Intensité (u. a.)","titlePadding":8,"titleY":176}},
"color":{"field":"s","type":"nominal","scale":{"domain":["2h 700°C","20h 700°C"],"range":["#000000","#f0301c"]},"legend":{"title":null,"orient":"none","legendX":312.5,"legendY":69,"symbolType":"M-3,0H1","symbolSize":552,"symbolStrokeWidth":2,"labelOffset":5}}
}},
{"data":{"name":"fwhm"},"transform":[{"filter":"datum.p == 'a'"}],
"mark":{"type":"rule","strokeDash":[7,5],"strokeWidth":1.6},
"encoding":{
"x":{"field":"x1","type":"quantitative","scale":{"domain":[0,1000],"nice":false,"zero":false},"axis":{"orient":"bottom","values":[100,300,500,700,900],"labels":false,"title":null,"tickSize":4,"domain":false}},
"x2":{"field":"x2"},
"y":{"field":"y","type":"quantitative","scale":{"domain":[0,1.6e-5],"nice":false,"zero":false},"axis":{"orient":"left","values":[1e-6,3e-6,5e-6,7e-6,9e-6,1.1e-5,1.3e-5,1.5e-5],"labels":false,"title":null,"tickSize":4,"domain":false}},
"color":{"field":"s","type":"nominal","legend":null}
}},
{"data":{"name":"fwhm"},"transform":[{"filter":"datum.p == 'a'"}],
"mark":{"type":"point","shape":"triangle-left","filled":true,"size":30,"opacity":1},
"encoding":{
"x":{"field":"x1","type":"quantitative","scale":{"domain":[0,1000],"nice":false,"zero":false},"axis":{"orient":"top","values":[0,100,200,300,400,500,600,700,800,900,1000],"labels":false,"title":null,"tickSize":-5}},
"y":{"field":"y","type":"quantitative","scale":{"domain":[0,1.6e-5],"nice":false,"zero":false},"axis":{"orient":"right","values":[1e-6,2e-6,3e-6,4e-6,5e-6,6e-6,7e-6,8e-6,9e-6,1e-5,1.1e-5,1.2e-5,1.3e-5,1.4e-5,1.5e-5],"labels":false,"title":null,"tickSize":-6}},
"color":{"field":"s","type":"nominal","legend":null}
}},
{"data":{"name":"fwhm"},"transform":[{"filter":"datum.p == 'a'"}],
"mark":{"type":"point","shape":"triangle-right","filled":true,"size":30,"opacity":1},
"encoding":{
"x":{"field":"x2","type":"quantitative","scale":{"domain":[0,1000],"nice":false,"zero":false},"axis":null},
"y":{"field":"y","type":"quantitative","scale":{"domain":[0,1.6e-5],"nice":false,"zero":false},"axis":null},
"color":{"field":"s","type":"nominal","legend":null}
}},
{"data":{"name":"fwhm"},"transform":[{"filter":"datum.p == 'a'"}],
"mark":{"type":"text","align":"right","baseline":"middle","dx":-7,"fontSize":18,"fontWeight":"bold","font":"Liberation Sans"},
"encoding":{
"x":{"field":"x1","type":"quantitative","scale":{"domain":[0,1000],"nice":false,"zero":false},"axis":null},
"y":{"field":"y","type":"quantitative","scale":{"domain":[0,1.6e-5],"nice":false,"zero":false},"axis":null},
"text":{"field":"label"},
"color":{"field":"s","type":"nominal","legend":null}
}},
{"data":{"values":[{}]},"mark":{"type":"rule","color":"#000","strokeWidth":2},
"encoding":{"x":{"datum":-267.1,"type":"quantitative","scale":{"domain":[0,1000],"nice":false,"zero":false},"axis":null},"x2":{"datum":1055.6},"y":{"datum":16.76e-6,"type":"quantitative","scale":{"domain":[0,1.6e-5],"nice":false,"zero":false},"axis":null}}},
{"data":{"values":[{}]},"mark":{"type":"rule","color":"#000","strokeWidth":2},
"encoding":{"x":{"datum":-267.1,"type":"quantitative","scale":{"domain":[0,1000],"nice":false,"zero":false},"axis":null},"y":{"datum":16.76e-6,"type":"quantitative","scale":{"domain":[0,1.6e-5],"nice":false,"zero":false},"axis":null},"y2":{"datum":-5.9e-6}}},
{"data":{"values":[{}]},"mark":{"type":"rule","color":"#000","strokeWidth":2},
"encoding":{"x":{"datum":1055.6,"type":"quantitative","scale":{"domain":[0,1000],"nice":false,"zero":false},"axis":null},"y":{"datum":16.76e-6,"type":"quantitative","scale":{"domain":[0,1.6e-5],"nice":false,"zero":false},"axis":null},"y2":{"datum":-5.9e-6}}},
{"data":{"values":[{}]},"mark":{"type":"text","text":"(a)","font":"Liberation Serif","fontSize":28,"fontWeight":"bold","align":"center","baseline":"middle","color":"#000"},
"encoding":{"x":{"datum":395.3,"type":"quantitative","scale":{"domain":[0,1000],"nice":false,"zero":false},"axis":null},"y":{"datum":-4.07e-6,"type":"quantitative","scale":{"domain":[0,1.6e-5],"nice":false,"zero":false},"axis":null}}}
]
},
{
"width":459,"height":382,
"resolve":{"axis":{"x":"independent","y":"independent"}},
"layer":[
{"data":{"name":"curves"},"transform":[{"filter":"datum.p == 'b'"}],
"mark":{"type":"line","strokeWidth":1.8},
"encoding":{
"x":{"field":"t","type":"quantitative","scale":{"domain":[0,1250],"nice":false,"zero":false},"axis":{"orient":"bottom","values":[0,250,500,750,1000,1250],"format":"d","title":"Durée de la gravure (s)","tickSize":7,"labelPadding":3,"titlePadding":6}},
"y":{"field":"v","type":"quantitative","scale":{"domain":[0,3e-5],"nice":false,"zero":false},"axis":{"orient":"left","values":[0,5e-6,1e-5,1.5e-5,2e-5,2.5e-5,3e-5],"labelExpr":"datum.value == 0 ? '0,0' : replace(replace(replace(format(datum.value, '.1e'), '.', ','), 'e-5', 'x10⁻⁵'), 'e-6', 'x10⁻⁶')","tickSize":8,"labelPadding":4,"title":"Intensité (u. a.)","titlePadding":8,"titleY":184}},
"color":{"field":"s","type":"nominal","scale":{"domain":["2h 800°C","20h 800°C"],"range":["#000000","#f0301c"]},"legend":{"title":null,"orient":"none","legendX":313.8,"legendY":36.5,"symbolType":"M-3,0H1","symbolSize":552,"symbolStrokeWidth":2,"labelOffset":5}}
}},
{"data":{"name":"fwhm"},"transform":[{"filter":"datum.p == 'b'"}],
"mark":{"type":"rule","strokeDash":[7,5],"strokeWidth":1.6},
"encoding":{
"x":{"field":"x1","type":"quantitative","scale":{"domain":[0,1250],"nice":false,"zero":false},"axis":{"orient":"bottom","values":[125,375,625,875,1125],"labels":false,"title":null,"tickSize":4,"domain":false}},
"x2":{"field":"x2"},
"y":{"field":"y","type":"quantitative","scale":{"domain":[0,3e-5],"nice":false,"zero":false},"axis":{"orient":"left","values":[2.5e-6,7.5e-6,1.25e-5,1.75e-5,2.25e-5,2.75e-5],"labels":false,"title":null,"tickSize":4,"domain":false}},
"color":{"field":"s","type":"nominal","legend":null}
}},
{"data":{"name":"fwhm"},"transform":[{"filter":"datum.p == 'b'"}],
"mark":{"type":"point","shape":"triangle-left","filled":true,"size":30,"opacity":1},
"encoding":{
"x":{"field":"x1","type":"quantitative","scale":{"domain":[0,1250],"nice":false,"zero":false},"axis":{"orient":"top","values":[0,125,250,375,500,625,750,875,1000,1125,1250],"labels":false,"title":null,"tickSize":-5}},
"y":{"field":"y","type":"quantitative","scale":{"domain":[0,3e-5],"nice":false,"zero":false},"axis":{"orient":"right","values":[2.5e-6,5e-6,7.5e-6,1e-5,1.25e-5,1.5e-5,1.75e-5,2e-5,2.25e-5,2.5e-5,2.75e-5],"labels":false,"title":null,"tickSize":-6}},
"color":{"field":"s","type":"nominal","legend":null}
}},
{"data":{"name":"fwhm"},"transform":[{"filter":"datum.p == 'b'"}],
"mark":{"type":"point","shape":"triangle-right","filled":true,"size":30,"opacity":1},
"encoding":{
"x":{"field":"x2","type":"quantitative","scale":{"domain":[0,1250],"nice":false,"zero":false},"axis":null},
"y":{"field":"y","type":"quantitative","scale":{"domain":[0,3e-5],"nice":false,"zero":false},"axis":null},
"color":{"field":"s","type":"nominal","legend":null}
}},
{"data":{"name":"fwhm"},"transform":[{"filter":"datum.p == 'b'"}],
"mark":{"type":"text","align":"right","baseline":"middle","dx":-6,"fontSize":18,"fontWeight":"bold","font":"Liberation Sans"},
"encoding":{
"x":{"field":"x1","type":"quantitative","scale":{"domain":[0,1250],"nice":false,"zero":false},"axis":null},
"y":{"field":"y","type":"quantitative","scale":{"domain":[0,3e-5],"nice":false,"zero":false},"axis":null},
"text":{"field":"label"},
"color":{"field":"s","type":"nominal","legend":null}
}},
{"data":{"values":[{}]},"mark":{"type":"rule","color":"#000","strokeWidth":2},
"encoding":{"x":{"datum":-329.5,"type":"quantitative","scale":{"domain":[0,1250],"nice":false,"zero":false},"axis":null},"x2":{"datum":1352},"y":{"datum":31.414e-6,"type":"quantitative","scale":{"domain":[0,3e-5],"nice":false,"zero":false},"axis":null}}},
{"data":{"values":[{}]},"mark":{"type":"text","text":"(b)","font":"Liberation Serif","fontSize":28,"fontWeight":"bold","align":"center","baseline":"middle","color":"#000"},
"encoding":{"x":{"datum":514.7,"type":"quantitative","scale":{"domain":[0,1250],"nice":false,"zero":false},"axis":null},"y":{"datum":-7.46e-6,"type":"quantitative","scale":{"domain":[0,3e-5],"nice":false,"zero":false},"axis":null}}}
]
}
]
}
